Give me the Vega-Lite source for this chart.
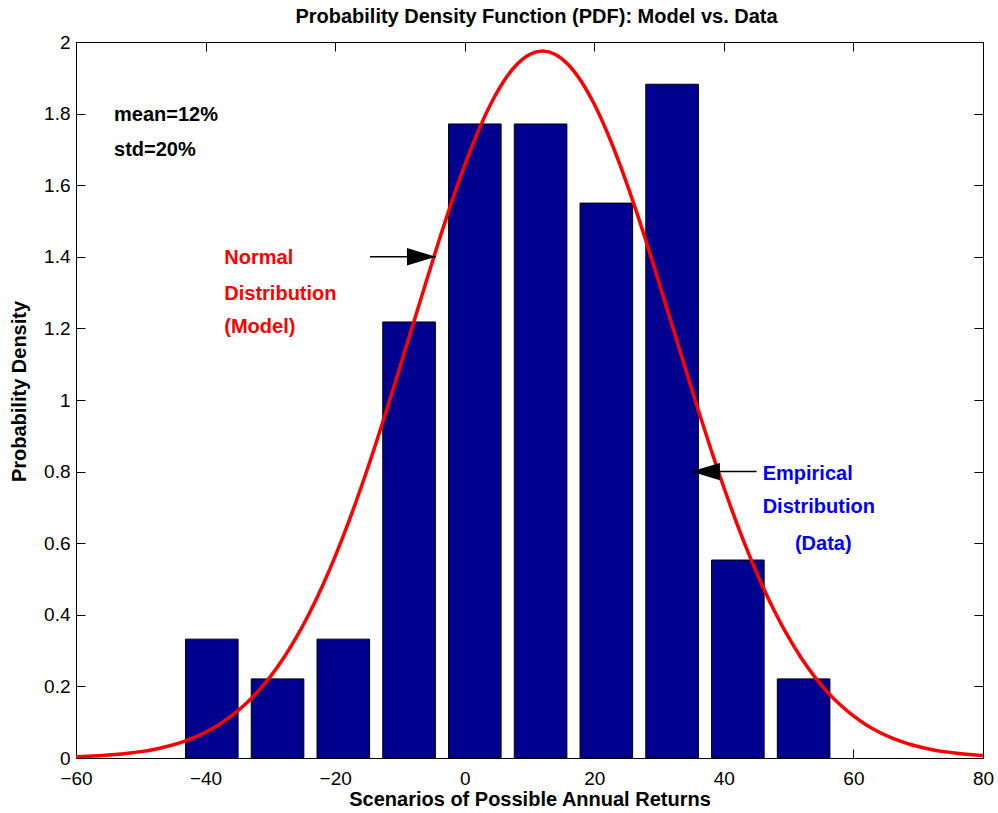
{
  "$schema": "https://vega.github.io/schema/vega-lite/v6.json",
  "width": 907,
  "height": 716,
  "autosize": {"type": "none"},
  "padding": {"left": 76, "top": 42, "right": 15, "bottom": 55},
  "background": "white",
  "config": {
    "view": {"stroke": "black", "strokeWidth": 1},
    "font": "Liberation Sans",
    "axis": {
      "grid": false,
      "domainColor": "black",
      "tickColor": "black",
      "labelColor": "black",
      "titleColor": "black",
      "labelFont": "Liberation Sans",
      "titleFont": "Liberation Sans",
      "labelFontSize": 19,
      "titleFontSize": 20,
      "titleFontWeight": "bold",
      "tickSize": -9,
      "labelFlush": false,
      "labelOverlap": false,
      "domainWidth": 1,
      "tickWidth": 1
    }
  },
  "title": {
    "text": "Probability Density Function (PDF): Model vs. Data",
    "fontSize": 20,
    "fontWeight": "bold",
    "font": "Liberation Sans",
    "color": "black",
    "anchor": "middle",
    "baseline": "alphabetic",
    "offset": 15,
    "dx": 7,
    "dy": 25
  },
  "datasets": {
    "bins": [
      {"x0": -43.10, "x1": -34.98, "density": 0.332},
      {"x0": -32.95, "x1": -24.83, "density": 0.221},
      {"x0": -22.80, "x1": -14.68, "density": 0.332},
      {"x0": -12.65, "x1": -4.53, "density": 1.218},
      {"x0": -2.50, "x1": 5.62, "density": 1.771},
      {"x0": 7.65, "x1": 15.77, "density": 1.771},
      {"x0": 17.80, "x1": 25.92, "density": 1.550},
      {"x0": 27.95, "x1": 36.07, "density": 1.882},
      {"x0": 38.10, "x1": 46.22, "density": 0.553},
      {"x0": 48.25, "x1": 56.37, "density": 0.221}
    ],
    "curve": [
      {"x": -60, "pdf": 0.0034}, {"x": -58, "pdf": 0.0049}, {"x": -56, "pdf": 0.0068},
      {"x": -54, "pdf": 0.0095}, {"x": -52, "pdf": 0.0131}, {"x": -50, "pdf": 0.0178},
      {"x": -48, "pdf": 0.0240}, {"x": -46, "pdf": 0.0320}, {"x": -44, "pdf": 0.0423},
      {"x": -42, "pdf": 0.0554}, {"x": -40, "pdf": 0.0719}, {"x": -38, "pdf": 0.0923},
      {"x": -36, "pdf": 0.1174}, {"x": -34, "pdf": 0.1478}, {"x": -32, "pdf": 0.1842},
      {"x": -30, "pdf": 0.2274}, {"x": -28, "pdf": 0.2780}, {"x": -26, "pdf": 0.3366},
      {"x": -24, "pdf": 0.4035}, {"x": -22, "pdf": 0.4790}, {"x": -20, "pdf": 0.5632},
      {"x": -18, "pdf": 0.6556}, {"x": -16, "pdf": 0.7557}, {"x": -14, "pdf": 0.8626},
      {"x": -12, "pdf": 0.9751}, {"x": -10, "pdf": 1.0914}, {"x": -8, "pdf": 1.2098},
      {"x": -6, "pdf": 1.3278}, {"x": -4, "pdf": 1.4432}, {"x": -2, "pdf": 1.5533},
      {"x": 0, "pdf": 1.6555}, {"x": 2, "pdf": 1.7472}, {"x": 4, "pdf": 1.8260},
      {"x": 6, "pdf": 1.8898}, {"x": 8, "pdf": 1.9366}, {"x": 10, "pdf": 1.9653},
      {"x": 12, "pdf": 1.9750}, {"x": 14, "pdf": 1.9653}, {"x": 16, "pdf": 1.9366},
      {"x": 18, "pdf": 1.8898}, {"x": 20, "pdf": 1.8260}, {"x": 22, "pdf": 1.7472},
      {"x": 24, "pdf": 1.6555}, {"x": 26, "pdf": 1.5533}, {"x": 28, "pdf": 1.4432},
      {"x": 30, "pdf": 1.3278}, {"x": 32, "pdf": 1.2098}, {"x": 34, "pdf": 1.0914},
      {"x": 36, "pdf": 0.9751}, {"x": 38, "pdf": 0.8626}, {"x": 40, "pdf": 0.7557},
      {"x": 42, "pdf": 0.6556}, {"x": 44, "pdf": 0.5632}, {"x": 46, "pdf": 0.4790},
      {"x": 48, "pdf": 0.4035}, {"x": 50, "pdf": 0.3366}, {"x": 52, "pdf": 0.2780},
      {"x": 54, "pdf": 0.2274}, {"x": 56, "pdf": 0.1842}, {"x": 58, "pdf": 0.1478},
      {"x": 60, "pdf": 0.1174}, {"x": 62, "pdf": 0.0923}, {"x": 64, "pdf": 0.0719},
      {"x": 66, "pdf": 0.0554}, {"x": 68, "pdf": 0.0423}, {"x": 70, "pdf": 0.0320},
      {"x": 72, "pdf": 0.0240}, {"x": 74, "pdf": 0.0178}, {"x": 76, "pdf": 0.0131},
      {"x": 78, "pdf": 0.0095}, {"x": 80, "pdf": 0.0068}
    ],
    "notes": [
      {"x": -54.13, "y": 1.795, "label": "mean=12%", "kind": "stat"},
      {"x": -54.13, "y": 1.698, "label": "std=20%", "kind": "stat"},
      {"x": -37.11, "y": 1.397, "label": "Normal", "kind": "model"},
      {"x": -37.11, "y": 1.296, "label": "Distribution", "kind": "model"},
      {"x": -37.11, "y": 1.203, "label": "(Model)", "kind": "model"},
      {"x": 45.99, "y": 0.794, "label": "Empirical", "kind": "data"},
      {"x": 45.99, "y": 0.700, "label": "Distribution", "kind": "data"},
      {"x": 50.97, "y": 0.599, "label": "(Data)", "kind": "data"}
    ],
    "arrows": [
      {"x0": -14.62, "x1": -4.44, "y": 1.40, "dir": "right"},
      {"x0": 45.06, "x1": 34.92, "y": 0.80, "dir": "left"}
    ]
  },
  "layer": [
    {
      "data": {"name": "bins"},
      "mark": {"type": "rect", "fill": "#00008F", "stroke": "black", "strokeWidth": 1},
      "encoding": {
        "x": {
          "field": "x0", "type": "quantitative",
          "scale": {"domain": [-60, 80], "nice": false, "zero": false},
          "axis": {
            "orient": "bottom",
            "values": [-60, -40, -20, 0, 20, 40, 60, 80],
            "format": "d",
            "title": "Scenarios of Possible Annual Returns",
            "labelPadding": 20,
            "titleY": 47,
            "titleBaseline": "alphabetic"
          }
        },
        "x2": {"field": "x1"},
        "y": {
          "field": "density", "type": "quantitative",
          "scale": {"domain": [0, 2], "nice": false, "zero": false},
          "axis": {
            "orient": "left",
            "values": [0, 0.2, 0.4, 0.6, 0.8, 1, 1.2, 1.4, 1.6, 1.8, 2],
            "format": "~g",
            "title": "Probability Density",
            "labelPadding": 15,
            "titleX": -51,
            "titleY": 349,
            "titleAngle": -90,
            "titleBaseline": "alphabetic"
          }
        },
        "y2": {"datum": 0}
      }
    },
    {
      "data": {"name": "curve"},
      "mark": {"type": "line", "color": "#FF0000", "strokeWidth": 3.5, "interpolate": "monotone"},
      "encoding": {
        "x": {
          "field": "x", "type": "quantitative",
          "scale": {"domain": [-60, 80], "nice": false, "zero": false},
          "axis": {"orient": "top", "values": [-60, -40, -20, 0, 20, 40, 60, 80], "labels": false, "title": null}
        },
        "y": {
          "field": "pdf", "type": "quantitative",
          "scale": {"domain": [0, 2], "nice": false, "zero": false},
          "axis": {"orient": "right", "values": [0, 0.2, 0.4, 0.6, 0.8, 1, 1.2, 1.4, 1.6, 1.8, 2], "labels": false, "title": null}
        }
      }
    },
    {
      "data": {"name": "notes"},
      "mark": {"type": "text", "align": "left", "baseline": "middle", "font": "Liberation Sans", "fontSize": 20, "fontWeight": "bold"},
      "encoding": {
        "x": {"field": "x", "type": "quantitative", "scale": {"domain": [-60, 80], "nice": false, "zero": false}, "axis": null},
        "y": {"field": "y", "type": "quantitative", "scale": {"domain": [0, 2], "nice": false, "zero": false}, "axis": null},
        "text": {"field": "label", "type": "nominal"},
        "color": {"field": "kind", "type": "nominal", "scale": {"domain": ["stat", "model", "data"], "range": ["black", "#FF0000", "#0000FF"]}, "legend": null}
      }
    },
    {
      "data": {"name": "arrows"},
      "mark": {"type": "rule", "color": "black", "strokeWidth": 1.5},
      "encoding": {
        "x": {"field": "x0", "type": "quantitative", "scale": {"domain": [-60, 80], "nice": false, "zero": false}, "axis": null},
        "x2": {"field": "x1"},
        "y": {"field": "y", "type": "quantitative", "scale": {"domain": [0, 2], "nice": false, "zero": false}, "axis": null}
      }
    },
    {
      "data": {"name": "arrows"},
      "mark": {"type": "point", "filled": true, "color": "black", "opacity": 1, "size": 3364, "strokeWidth": 0},
      "encoding": {
        "x": {"field": "x1", "type": "quantitative", "scale": {"domain": [-60, 80], "nice": false, "zero": false}, "axis": null},
        "y": {"field": "y", "type": "quantitative", "scale": {"domain": [0, 2], "nice": false, "zero": false}, "axis": null},
        "shape": {"field": "dir", "type": "nominal", "scale": {"domain": ["right", "left"], "range": ["M0,0L-1,-0.3L-1,0.3Z", "M0,0L1,-0.3L1,0.3Z"]}, "legend": null}
      }
    }
  ]
}
